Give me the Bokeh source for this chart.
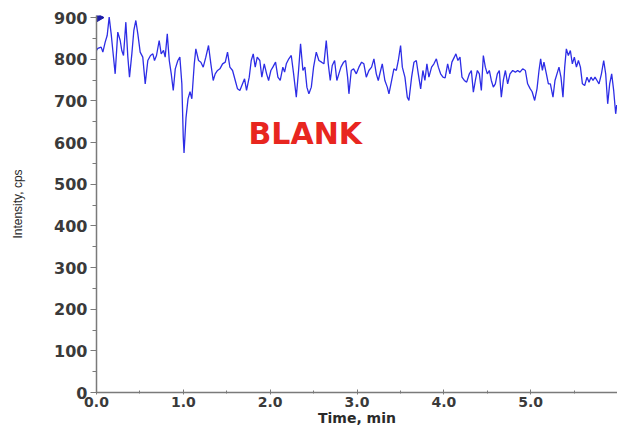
import math
from bokeh.plotting import figure
from bokeh.models import Range1d, FixedTicker, Label
from bokeh.embed import file_html
from bokeh.resources import INLINE

# Time (min) and intensity (cps) of the blank trace
time_min = [
    0.000, 0.015, 0.054, 0.073, 0.100, 0.123, 0.146, 0.169, 0.188, 0.215,
    0.245, 0.273, 0.291, 0.311, 0.338, 0.361, 0.380, 0.407, 0.430, 0.453,
    0.476, 0.503, 0.533, 0.561, 0.591, 0.622, 0.649, 0.668, 0.691, 0.722,
    0.745, 0.772, 0.791, 0.815, 0.838, 0.861, 0.884, 0.907, 0.937, 0.960,
    0.983, 0.999, 1.008, 1.031, 1.054, 1.077, 1.098, 1.126, 1.144, 1.175,
    1.202, 1.229, 1.259, 1.290, 1.317, 1.344, 1.367, 1.394, 1.421, 1.452,
    1.483, 1.509, 1.536, 1.567, 1.598, 1.624, 1.651, 1.682, 1.705, 1.728,
    1.759, 1.782, 1.805, 1.828, 1.851, 1.881, 1.904, 1.932, 1.959, 1.982,
    2.008, 2.031, 2.062, 2.089, 2.116, 2.146, 2.166, 2.186, 2.215, 2.243,
    2.270, 2.301, 2.327, 2.350, 2.377, 2.400, 2.423, 2.446, 2.474, 2.500,
    2.531, 2.561, 2.592, 2.619, 2.646, 2.669, 2.692, 2.715, 2.742, 2.768,
    2.791, 2.815, 2.846, 2.869, 2.892, 2.907, 2.934, 2.961, 2.992, 3.022,
    3.053, 3.079, 3.107, 3.137, 3.168, 3.195, 3.222, 3.245, 3.272, 3.291,
    3.321, 3.349, 3.368, 3.399, 3.425, 3.453, 3.476, 3.502, 3.522, 3.552,
    3.579, 3.598, 3.629, 3.656, 3.683, 3.706, 3.733, 3.759, 3.782, 3.805,
    3.828, 3.859, 3.886, 3.914, 3.937, 3.963, 3.990, 4.015, 4.044, 4.070,
    4.093, 4.121, 4.139, 4.162, 4.186, 4.209, 4.236, 4.263, 4.294, 4.317,
    4.340, 4.363, 4.386, 4.409, 4.432, 4.455, 4.478, 4.501, 4.524, 4.547,
    4.570, 4.593, 4.616, 4.639, 4.662, 4.685, 4.709, 4.735, 4.762, 4.793,
    4.824, 4.850, 4.877, 4.908, 4.939, 4.965, 4.992, 5.017, 5.046, 5.073,
    5.096, 5.115, 5.135, 5.153, 5.181, 5.204, 5.227, 5.257, 5.280, 5.303,
    5.326, 5.349, 5.372, 5.392, 5.411, 5.434, 5.457, 5.480, 5.503, 5.527,
    5.550, 5.573, 5.596, 5.622, 5.649, 5.672, 5.695, 5.718, 5.741, 5.764,
    5.787, 5.815, 5.841, 5.864, 5.887, 5.910, 5.933, 5.956, 5.979, 5.991,
]
intensity_cps = [
    821, 826, 829, 817, 841, 857, 901, 861, 821, 765,
    865, 845, 821, 809, 889, 805, 757, 813, 869, 893,
    861, 817, 805, 741, 797, 809, 813, 797, 809, 845,
    813, 821, 805, 861, 797, 765, 725, 777, 797, 805,
    741, 613, 575, 660, 705, 722, 705, 789, 825, 797,
    793, 781, 805, 833, 789, 749, 765, 773, 777, 789,
    793, 817, 781, 773, 749, 729, 725, 741, 753, 725,
    757, 797, 813, 781, 805, 797, 757, 789, 765, 749,
    773, 781, 793, 757, 749, 781, 769, 789, 801, 809,
    765, 709, 773, 837, 773, 781, 733, 717, 733, 781,
    817, 797, 793, 789, 845, 789, 749, 785, 797, 749,
    765, 781, 793, 797, 757, 717, 773, 777, 765, 781,
    793, 789, 757, 773, 781, 801, 765, 749, 773, 789,
    749, 733, 717, 749, 777, 773, 797, 833, 781, 757,
    709, 701, 757, 793, 797, 765, 729, 773, 749, 789,
    757, 781, 789, 801, 781, 765, 757, 755, 789, 765,
    793, 805, 813, 797, 805, 757, 749, 745, 765, 773,
    721, 749, 773, 765, 725, 809, 781, 765, 773, 749,
    733, 741, 765, 773, 709, 749, 773, 741, 765, 773,
    769, 773, 769, 777, 773, 741, 730, 722, 701, 729,
    773, 801, 773, 793, 765, 741, 741, 709, 749, 765,
    781, 757, 709, 781, 825, 809, 821, 789, 805, 781,
    797, 781, 741, 737, 757, 745, 757, 749, 757, 749,
    741, 765, 797, 765, 693, 741, 765, 725, 669, 690,
]

x_ticks = [0, 1, 2, 3, 4, 5]
x_tick_labels = {0: "0.0", 1: "1.0", 2: "2.0", 3: "3.0", 4: "4.0", 5: "5.0"}
y_ticks = [0, 100, 200, 300, 400, 500, 600, 700, 800, 900]

marker_time = [0.02]
marker_level = [900]

annotation_text = "BLANK"
annotation_time = 1.75
annotation_level = 622

p = figure(width=617, height=428, output_backend="svg", toolbar_location=None,
           x_range=Range1d(0, 6.0), y_range=Range1d(0, 905),
           min_border_left=96, min_border_right=0, min_border_top=15,
           min_border_bottom=36)
p.outline_line_color = None
p.xgrid.visible = False
p.ygrid.visible = False
p.background_fill_color = "white"
p.border_fill_color = "white"

p.line(time_min, intensity_cps, line_color="#2d2de6", line_width=1.3)

p.scatter(marker_time, marker_level, marker="triangle", angle=-math.pi / 2,
          size=10, fill_color="#1c1ca8", line_color="#1c1ca8")

lbl = Label(x=annotation_time, y=annotation_level, text=annotation_text,
            text_color="#e8261f", text_font="DejaVu Sans", text_font_style="bold",
            text_font_size="30px", text_baseline="middle", text_align="left")
p.add_layout(lbl)

tick_font = "DejaVu Sans"
tick_color = "#3a3a3a"
axis_color = "#7a7a7a"

xa = p.xaxis[0]
xa.ticker = FixedTicker(ticks=x_ticks, minor_ticks=[0.5, 1.5, 2.5, 3.5, 4.5, 5.5])
xa.major_label_overrides = x_tick_labels
xa.axis_line_color = axis_color
xa.axis_line_width = 1.5
xa.major_tick_line_color = axis_color
xa.minor_tick_line_color = axis_color
xa.major_tick_in = 3
xa.major_tick_out = 2
xa.minor_tick_in = 2
xa.minor_tick_out = 1
xa.major_label_text_font = tick_font
xa.major_label_text_font_style = "bold"
xa.major_label_text_font_size = "14px"
xa.major_label_text_color = tick_color
xa.major_label_standoff = 2
xa.axis_label = "Time, min"
xa.axis_label_text_font = tick_font
xa.axis_label_text_font_style = "bold"
xa.axis_label_text_font_size = "14px"
xa.axis_label_text_color = "#2a2a2a"
xa.axis_label_standoff = 0

ya = p.yaxis[0]
ya.ticker = FixedTicker(ticks=y_ticks, minor_ticks=[50 + 100 * i for i in range(9)])
ya.axis_line_color = axis_color
ya.axis_line_width = 1.5
ya.major_tick_line_color = axis_color
ya.minor_tick_line_color = axis_color
ya.major_tick_in = 0
ya.major_tick_out = 6
ya.minor_tick_in = 0
ya.minor_tick_out = 4
ya.major_label_text_font = tick_font
ya.major_label_text_font_style = "bold"
ya.major_label_text_font_size = "16px"
ya.major_label_text_color = tick_color
ya.major_label_standoff = 3
ya.axis_label = "Intensity, cps"
ya.axis_label_text_font = "Liberation Sans"
ya.axis_label_text_font_style = "normal"
ya.axis_label_text_font_size = "12px"
ya.axis_label_text_color = "#2a2a2a"
ya.axis_label_standoff = 26

open("out.html", "w").write(file_html(p, INLINE))
